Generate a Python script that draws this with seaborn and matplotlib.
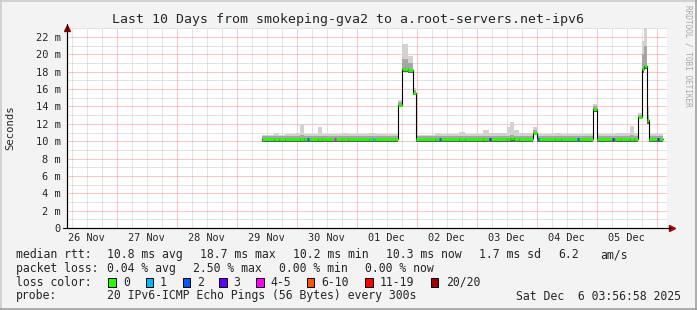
import matplotlib
matplotlib.use("Agg")
import numpy as np
import pandas as pd
import seaborn as sns
import matplotlib.pyplot as plt
from matplotlib.patches import Rectangle
from matplotlib.lines import Line2D

# ---------------- data (time in days since 26 Nov 00:00) ----------------
T = [3.42, 3.62, 3.70, 3.80, 4.05, 4.13, 4.35, 4.43, 4.75, 4.85, 5.20, 5.30,
     5.693, 5.75, 5.85, 5.943, 5.988, 6.30, 6.40, 6.70, 6.80, 7.10, 7.20, 7.50,
     7.56, 7.62, 7.70, 7.945, 8.00, 8.30, 8.40, 8.943, 9.00, 9.30, 9.40, 9.55,
     9.62, 9.693, 9.75, 9.788, 9.833, 9.872, 10.11]
MEDIAN = [10.3, 10.3, 10.3, 10.2, 10.3, 10.3, 10.25, 10.3, 10.3, 10.3, 10.3, 10.3,
          14.2, 18.3, 18.2, 15.6, 10.3, 10.25, 10.3, 10.3, 10.25, 10.3, 10.3, 10.3,
          10.35, 10.3, 10.3, 11.0, 10.3, 10.25, 10.3, 13.7, 10.3, 10.25, 10.3, 10.3,
          10.25, 12.8, 18.3, 18.7, 12.4, 10.3, 10.3]
SMOKE_HI = [10.7, 11.0, 10.7, 10.8, 12.0, 10.8, 11.6, 10.8, 10.9, 10.8, 11.0, 10.8,
            14.8, 21.2, 19.8, 16.1, 10.7, 10.9, 10.8, 11.1, 10.8, 11.3, 11.0, 11.6,
            12.2, 11.3, 10.9, 11.6, 10.8, 10.9, 10.8, 14.3, 10.8, 11.0, 10.9, 11.7,
            11.0, 13.3, 21.5, 23.5, 14.0, 10.8, 10.8]
SMOKE_MID = [10.6, 10.65, 10.6, 10.6, 10.75, 10.6, 10.65, 10.6, 10.6, 10.6, 10.65, 10.6,
             14.5, 19.5, 19.0, 15.9, 10.6, 10.65, 10.6, 10.65, 10.6, 10.65, 10.6, 10.65,
             10.75, 10.65, 10.6, 11.3, 10.6, 10.65, 10.6, 14.0, 10.6, 10.65, 10.6, 10.75,
             10.65, 13.0, 20.0, 21.0, 13.0, 10.6, 10.6]
SMOKE_LO = [9.9, 9.9, 9.9, 9.85, 9.9, 9.9, 9.9, 9.9, 9.9, 9.9, 9.9, 9.9,
            13.9, 18.0, 17.9, 15.3, 9.9, 9.85, 9.9, 9.9, 9.85, 9.9, 9.9, 9.9,
            9.9, 9.9, 9.9, 10.7, 9.9, 9.85, 9.9, 13.4, 9.9, 9.85, 9.9, 9.9,
            9.85, 12.5, 17.9, 18.3, 12.0, 9.9, 9.9]

LOSS_T = [4.19, 4.64, 5.27, 6.39, 7.22, 8.02, 8.69, 9.27, 10.02]
LOSS_LEVEL = [2, 4, 1, 2, 3, 2, 2, 3, 3]

DAY_LABELS = ['26 Nov', '27 Nov', '28 Nov', '29 Nov', '30 Nov',
              '01 Dec', '02 Dec', '03 Dec', '04 Dec', '05 Dec']
Y_TICKS = [0, 2, 4, 6, 8, 10, 12, 14, 16, 18, 20, 22]
Y_LABELS = ['0', '2 m', '4 m', '6 m', '8 m', '10 m', '12 m', '14 m',
            '16 m', '18 m', '20 m', '22 m']

LOSS_NAMES = ['0', '1', '2', '3', '4-5', '6-10', '11-19', '20/20']
LOSS_COLORS = ['#26ff00', '#00b8ff', '#0059ff', '#5e00ff', '#ff00ff',
               '#ff5500', '#ff0000', '#a10000']

TITLE = 'Last 10 Days from smokeping-gva2 to a.root-servers.net-ipv6'

# ---------------- style ----------------
sns.set_theme(style='white')
plt.rcParams['font.family'] = ['DejaVu Sans Mono']
MONO = 'DejaVu Sans Mono'

W, H = 697, 310
fig = plt.figure(figsize=(W / 100, H / 100), dpi=100, facecolor='#f3f3f3')


def fx(x):
    return x / W


def fy(y):
    return (H - y) / H


ax = fig.add_axes([fx(67), fy(228), 600 / W, 200 / H])
ax.set_facecolor('white')
X0 = 0.172
ax.set_xlim(X0, X0 + 10)
ax.set_ylim(0, 23.04)

# grid
for d in np.arange(0.25, 10.3, 0.25):
    if X0 < d < X0 + 10 and abs(d - round(d)) > 1e-6:
        ax.axvline(d, color='#c8c8c8', lw=0.72, ls=(0, (1, 1)), zorder=0.5)
for v in range(1, 24, 2):
    ax.axhline(v, color='#c8c8c8', lw=0.72, ls=(0, (1, 1)), zorder=0.5)
for d in range(1, 11):
    ax.axvline(d, color='#f29090', lw=0.72, ls=(0, (1, 1)), zorder=0.6)
for v in Y_TICKS[1:]:
    ax.axhline(v, color='#f29090', lw=0.72, ls=(0, (1, 1)), zorder=0.6)

# smoke
ax.fill_between(T, SMOKE_LO, SMOKE_HI, step='post', color='#d2d2d2', lw=0, zorder=1)
ax.fill_between(T, SMOKE_LO, SMOKE_MID, step='post', color='#a6a6a6', lw=0, zorder=1.1)
ax.fill_between(T, SMOKE_LO, MEDIAN, step='post', color='#5e5e5e', lw=0, zorder=1.2)

# median line
df = pd.DataFrame({'t': T, 'median': MEDIAN})
sns.lineplot(data=df, x='t', y='median', drawstyle='steps-post', color='black',
             lw=0.8, estimator=None, ax=ax, zorder=2)
ax.hlines(MEDIAN[:-1], T[:-1], T[1:], color=LOSS_COLORS[0], lw=2.0, zorder=3)
for t, lvl in zip(LOSS_T, LOSS_LEVEL):
    i = int(np.searchsorted(T, t, side='right')) - 1
    ax.hlines(MEDIAN[i], t - 0.02, t + 0.02, color=LOSS_COLORS[lvl], lw=2.0, zorder=3.5)

# axes
for s in ['top', 'right']:
    ax.spines[s].set_visible(False)
for s in ['left', 'bottom']:
    ax.spines[s].set_color('black')
    ax.spines[s].set_linewidth(0.8)
ax.set_xlabel('')
ax.set_ylabel('')
ax.set_yticks(Y_TICKS)
ax.set_yticklabels(Y_LABELS, fontsize=7.5, family=MONO)
ax.set_xticks(range(1, 11))
ax.set_xticks([d for d in np.arange(0.25, 10.2, 0.25)
               if X0 < d < X0 + 10 and abs(d - round(d)) > 1e-6], minor=True)
ax.set_xticklabels([])
ax.tick_params(axis='y', which='major', length=2.5, width=0.7, color='black',
               direction='out', pad=2)
ax.tick_params(axis='x', which='major', length=3, width=0.7, color='#e05050',
               direction='out')
ax.tick_params(axis='x', which='minor', length=2, width=0.7, color='#bbbbbb',
               direction='out')
for i, lab in enumerate(DAY_LABELS):
    ax.text(i + 0.5, -0.052, lab, transform=ax.get_xaxis_transform(),
            ha='center', va='center', fontsize=7.4, family=MONO)

# arrows
ax.plot([0], [1.0], marker='^', color='#a00000', ms=4, transform=ax.transAxes,
        clip_on=False)
ax.plot([1.0075], [0], marker='>', color='#a00000', ms=4, transform=ax.transAxes,
        clip_on=False)
fig.add_artist(Line2D([fx(67), fx(67)], [fy(228), fy(24)], color='black', lw=0.8))
fig.add_artist(Line2D([fx(63), fx(671)], [fy(228), fy(228)], color='black', lw=0.8))

# texts
fig.text(fx(347.5), fy(19.5), TITLE, ha='center', va='center', fontsize=9.55, family=MONO)
fig.text(fx(10), fy(128), 'Seconds', rotation=90, ha='center', va='center',
         fontsize=7.6, family=MONO)
fig.text(fx(688), fy(5), 'RRDTOOL / TOBI OETIKER', rotation=270, ha='center',
         va='top', fontsize=5.6, family=MONO, color='#a8a8a8')

LEG_FS = 8.3
rows = [254.5, 268.5, 282, 296]
line1 = [(16, 'median rtt:'), (107.3, '10.8 ms avg'), (200, '18.7 ms max'),
         (293, '10.2 ms min'), (386, '10.3 ms now'), (479.3, '1.7 ms sd'),
         (558.3, '6.2'), (600, 'am/s')]
line2 = [(16, 'packet loss:'), (107.3, '0.04 % avg'), (193.3, '2.50 % max'),
         (279.3, '0.00 % min'), (365, '0.00 % now')]
for x, s in line1:
    fig.text(fx(x), fy(rows[0]), s, ha='left', va='center', fontsize=LEG_FS, family=MONO)
for x, s in line2:
    fig.text(fx(x), fy(rows[1]), s, ha='left', va='center', fontsize=LEG_FS, family=MONO)
fig.text(fx(16), fy(rows[2]), 'loss color:', ha='left', va='center', fontsize=LEG_FS, family=MONO)
box_x = [108.3, 145.7, 182.7, 219.3, 256, 306.7, 365, 430.7]
lab_x = [123.3, 160, 196.7, 233.3, 270.7, 321.7, 380, 445.7]
for bx, lx, name, col in zip(box_x, lab_x, LOSS_NAMES, LOSS_COLORS):
    fig.add_artist(Rectangle((fx(bx), fy(rows[2] + 4.5)), 7.5 / W, 9 / H,
                             transform=fig.transFigure, facecolor=col,
                             edgecolor='black', lw=0.7))
    fig.text(fx(lx), fy(rows[2]), name, ha='left', va='center', fontsize=LEG_FS, family=MONO)
fig.text(fx(16), fy(rows[3]), 'probe:', ha='left', va='center', fontsize=LEG_FS, family=MONO)
fig.text(fx(107.3), fy(rows[3]), '20 IPv6-ICMP Echo Pings (56 Bytes) every 300s',
         ha='left', va='center', fontsize=LEG_FS, family=MONO)
fig.text(fx(681), fy(rows[3]), 'Sat Dec  6 03:56:58 2025', ha='right', va='center',
         fontsize=LEG_FS, family=MONO)

# frame
fig.add_artist(Line2D([0, 1], [fy(0.75), fy(0.75)], color='#c8c8c8', lw=1.1))
fig.add_artist(Line2D([fx(0.75), fx(0.75)], [0, 1], color='#c8c8c8', lw=1.1))
fig.add_artist(Line2D([0, 1], [fy(309.25), fy(309.25)], color='#9a9a9a', lw=1.1))
fig.add_artist(Line2D([fx(696.25), fx(696.25)], [0, 1], color='#9a9a9a', lw=1.1))

fig.savefig('out.png', dpi=100, facecolor=fig.get_facecolor())
